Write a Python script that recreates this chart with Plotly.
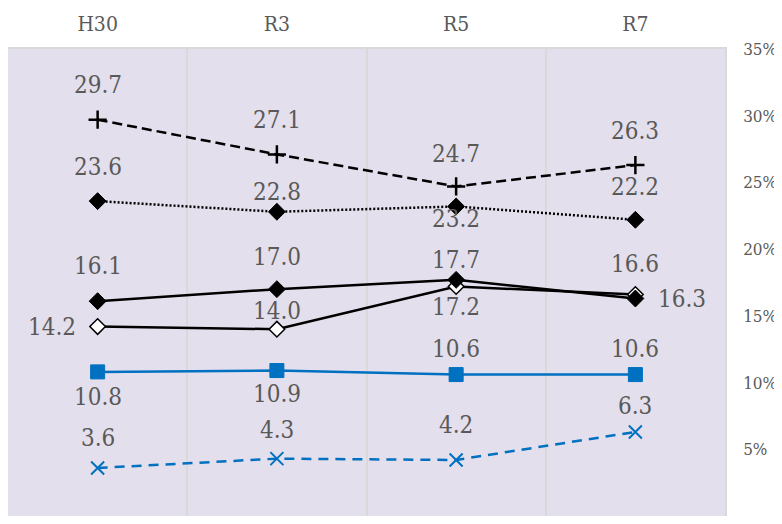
import plotly.graph_objects as go

categories = ["H30", "R3", "R5", "R7"]
s_plus = [29.7, 27.1, 24.7, 26.3]
s_dot = [23.6, 22.8, 23.2, 22.2]
s_fill = [16.1, 17.0, 17.7, 16.3]
s_open = [14.2, 14.0, 17.2, 16.6]
s_square = [10.8, 10.9, 10.6, 10.6]
s_x = [3.6, 4.3, 4.2, 6.3]
y_ticks = [0, 5, 10, 15, 20, 25, 30, 35]
y_tick_text = ["0%", "5%", "10%", "15%", "20%", "25%", "30%", "35%"]

BLUE = "#0070C0"
BLACK = "#000000"
TXT = "#595959"
FONT = "DejaVu Serif Condensed, DejaVu Sans Condensed, serif"

series = [
    dict(y=s_plus, color=BLACK, dash="10px,5px", symbol="cross-thin", size=13, fill=BLACK, lw=2.5,
         off=[(0, 35), (0, 34), (0, 32), (0, 34)]),
    dict(y=s_dot, color=BLACK, dash="2px,2px", symbol="diamond", size=13, fill=BLACK, lw=1,
         off=[(0, 34), (0, 20), (0, -13), (0, 33)]),
    dict(y=s_open, color=BLACK, dash="solid", symbol="diamond", size=12, fill="#FFFFFF", lw=1.5,
         off=[(-46, 0), (0, 18), (0, -20), (0, 31)]),
    dict(y=s_fill, color=BLACK, dash="solid", symbol="diamond", size=13, fill=BLACK, lw=1,
         off=[(0, 35), (0, 32), (0, 20), (47, 0)]),
    dict(y=s_square, color=BLUE, dash="solid", symbol="square", size=14, fill=BLUE, lw=1,
         off=[(0, -25), (0, -23), (0, 26), (0, 26)]),
    dict(y=s_x, color=BLUE, dash="10px,7px", symbol="x-thin", size=13, fill=BLUE, lw=2,
         off=[(0, 30), (0, 29), (0, 35), (0, 26)]),
]

fig = go.Figure()
annotations = []
for s in series:
    fig.add_trace(go.Scatter(
        x=categories, y=s["y"], mode="lines+markers",
        line=dict(color=s["color"], width=2.5, dash=s["dash"]),
        marker=dict(symbol=s["symbol"], size=s["size"], color=s["fill"],
                    line=dict(color=s["color"], width=s["lw"])),
        showlegend=False, hoverinfo="skip",
    ))
    for xv, yv, (dx, dy) in zip(categories, s["y"], s["off"]):
        annotations.append(dict(
            x=xv, y=yv, xref="x", yref="y", text=f"{yv:.1f}", showarrow=False,
            xshift=dx, yshift=dy, xanchor="center", yanchor="middle",
            font=dict(family=FONT, size=24, color=TXT),
        ))

# the page body adds an 8px margin, so the figure is shrunk to fit the window
fig.update_layout(
    width=774, height=508,
    margin=dict(l=0, r=57, t=41, b=0, autoexpand=False),
    paper_bgcolor="#FFFFFF",
    plot_bgcolor="#E4DFEC",
    annotations=annotations,
    font=dict(family=FONT, color=TXT),
)
fig.update_xaxes(
    type="category", side="top", range=[-0.5, 3.5], automargin=False,
    showgrid=True, gridcolor="#D9D9D9", gridwidth=1.5, tickson="boundaries",
    ticks="", ticklabelstandoff=8,
    tickfont=dict(family=FONT, size=21, color=TXT),
    showline=True, linecolor="#D9D9D9", linewidth=1.5, mirror=True, zeroline=False,
)
fig.update_yaxes(
    side="right", range=[0, 35], tickvals=y_ticks, ticktext=y_tick_text, automargin=False,
    showgrid=False, zeroline=False, ticks="", ticklabelstandoff=13,
    tickfont=dict(family=FONT, size=17, color=TXT),
    showline=True, linecolor="#D9D9D9", linewidth=1.5, mirror=True,
)

fig.write_html("out.html")
